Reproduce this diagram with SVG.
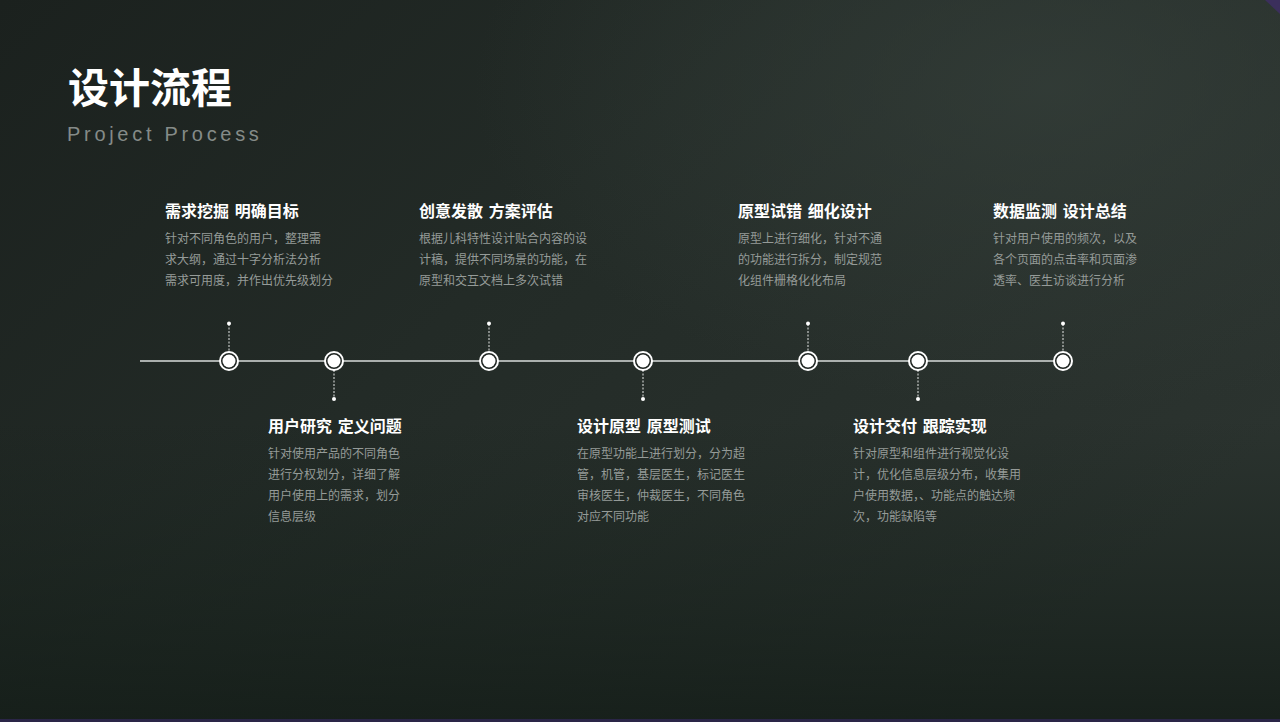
<svg xmlns="http://www.w3.org/2000/svg" width="1280" height="722" viewBox="0 0 1280 722">
<defs>
<linearGradient id="bg" x1="0" y1="0" x2="1" y2="0.6">
<stop offset="0" stop-color="#1b211e"/>
<stop offset="0.45" stop-color="#232b27"/>
<stop offset="1" stop-color="#2b332f"/>
</linearGradient>
<radialGradient id="glow" cx="0.82" cy="0.12" r="0.45">
<stop offset="0" stop-color="#36403b" stop-opacity="0.7"/>
<stop offset="1" stop-color="#36403b" stop-opacity="0"/>
</radialGradient>
<linearGradient id="bottom" x1="0" y1="0" x2="0" y2="1">
<stop offset="0" stop-color="#15201a" stop-opacity="0"/>
<stop offset="1" stop-color="#131c17" stop-opacity="0.8"/>
</linearGradient>
<style>
.t{font-family:"Noto Sans CJK SC","Noto Sans",sans-serif;font-weight:700;font-size:16px;word-spacing:2px;fill:#ffffff}
.b{font-family:"Noto Sans CJK SC","Noto Sans",sans-serif;font-size:12px;fill:#959b98}
.ring{fill:#1f2522;stroke:#ffffff;stroke-width:2}
.core{fill:#ffffff}
.stem{stroke:#e6e8e7;stroke-width:1;stroke-dasharray:2 1.5}
.dot{fill:#ffffff}
</style>
</defs>
<rect width="1280" height="722" fill="url(#bg)"/>
<rect width="1280" height="722" fill="url(#glow)"/>
<rect y="420" width="1280" height="302" fill="url(#bottom)"/>
<polygon points="1265,0 1280,0 1280,14" fill="#3b2f5c"/>
<rect y="719" width="1280" height="3" fill="#2a2547"/>

<g id="header">
<text x="68" y="103" font-family="'Noto Sans CJK SC','Noto Sans',sans-serif" font-weight="700" font-size="41" fill="#ffffff">设计流程</text>
<text x="67" y="141" font-family="'Liberation Sans',Arial,sans-serif" font-size="20" letter-spacing="3.7" fill="#858b88">Project Process</text>
</g>

<g id="connectors">
<line x1="140" y1="361" x2="1063" y2="361" stroke="#d9dddb" stroke-width="1.5"/>
<line class="stem" x1="229" y1="324" x2="229" y2="352"/>
<line class="stem" x1="489" y1="324" x2="489" y2="352"/>
<line class="stem" x1="808" y1="324" x2="808" y2="352"/>
<line class="stem" x1="1063" y1="324" x2="1063" y2="352"/>
<line class="stem" x1="334" y1="370" x2="334" y2="399"/>
<line class="stem" x1="643" y1="370" x2="643" y2="399"/>
<line class="stem" x1="918" y1="370" x2="918" y2="399"/>
<circle class="dot" cx="229" cy="323.5" r="2"/>
<circle class="dot" cx="489" cy="323.5" r="2"/>
<circle class="dot" cx="808" cy="323.5" r="2"/>
<circle class="dot" cx="1063" cy="323.5" r="2"/>
<circle class="dot" cx="334" cy="399" r="2"/>
<circle class="dot" cx="643" cy="399" r="2"/>
<circle class="dot" cx="918" cy="399" r="2"/>
</g>

<g id="node1">
<circle class="ring" cx="229" cy="361" r="9"/><circle class="core" cx="229" cy="361" r="6.5"/>
<text class="t" x="165" y="217">需求挖掘 明确目标</text>
<text class="b" x="165" y="243">针对不同角色的用户，整理需</text>
<text class="b" x="165" y="264">求大纲，通过十字分析法分析</text>
<text class="b" x="165" y="285">需求可用度，并作出优先级划分</text>
</g>
<g id="node2">
<circle class="ring" cx="334" cy="361" r="9"/><circle class="core" cx="334" cy="361" r="6.5"/>
<text class="t" x="268" y="432">用户研究 定义问题</text>
<text class="b" x="268" y="458">针对使用产品的不同角色</text>
<text class="b" x="268" y="479">进行分权划分，详细了解</text>
<text class="b" x="268" y="500">用户使用上的需求，划分</text>
<text class="b" x="268" y="521">信息层级</text>
</g>
<g id="node3">
<circle class="ring" cx="489" cy="361" r="9"/><circle class="core" cx="489" cy="361" r="6.5"/>
<text class="t" x="419" y="217">创意发散 方案评估</text>
<text class="b" x="419" y="243">根据儿科特性设计贴合内容的设</text>
<text class="b" x="419" y="264">计稿，提供不同场景的功能，在</text>
<text class="b" x="419" y="285">原型和交互文档上多次试错</text>
</g>
<g id="node4">
<circle class="ring" cx="643" cy="361" r="9"/><circle class="core" cx="643" cy="361" r="6.5"/>
<text class="t" x="577" y="432">设计原型 原型测试</text>
<text class="b" x="577" y="458">在原型功能上进行划分，分为超</text>
<text class="b" x="577" y="479">管，机管，基层医生，标记医生</text>
<text class="b" x="577" y="500">审核医生，仲裁医生，不同角色</text>
<text class="b" x="577" y="521">对应不同功能</text>
</g>
<g id="node5">
<circle class="ring" cx="808" cy="361" r="9"/><circle class="core" cx="808" cy="361" r="6.5"/>
<text class="t" x="738" y="217">原型试错 细化设计</text>
<text class="b" x="738" y="243">原型上进行细化，针对不通</text>
<text class="b" x="738" y="264">的功能进行拆分，制定规范</text>
<text class="b" x="738" y="285">化组件栅格化化布局</text>
</g>
<g id="node6">
<circle class="ring" cx="918" cy="361" r="9"/><circle class="core" cx="918" cy="361" r="6.5"/>
<text class="t" x="853" y="432">设计交付 跟踪实现</text>
<text class="b" x="853" y="458">针对原型和组件进行视觉化设</text>
<text class="b" x="853" y="479">计，优化信息层级分布，收集用</text>
<text class="b" x="853" y="500">户使用数据，、功能点的触达频</text>
<text class="b" x="853" y="521">次，功能缺陷等</text>
</g>
<g id="node7">
<circle class="ring" cx="1063" cy="361" r="9"/><circle class="core" cx="1063" cy="361" r="6.5"/>
<text class="t" x="993" y="217">数据监测 设计总结</text>
<text class="b" x="993" y="243">针对用户使用的频次，以及</text>
<text class="b" x="993" y="264">各个页面的点击率和页面渗</text>
<text class="b" x="993" y="285">透率、医生访谈进行分析</text>
</g>
</svg>
